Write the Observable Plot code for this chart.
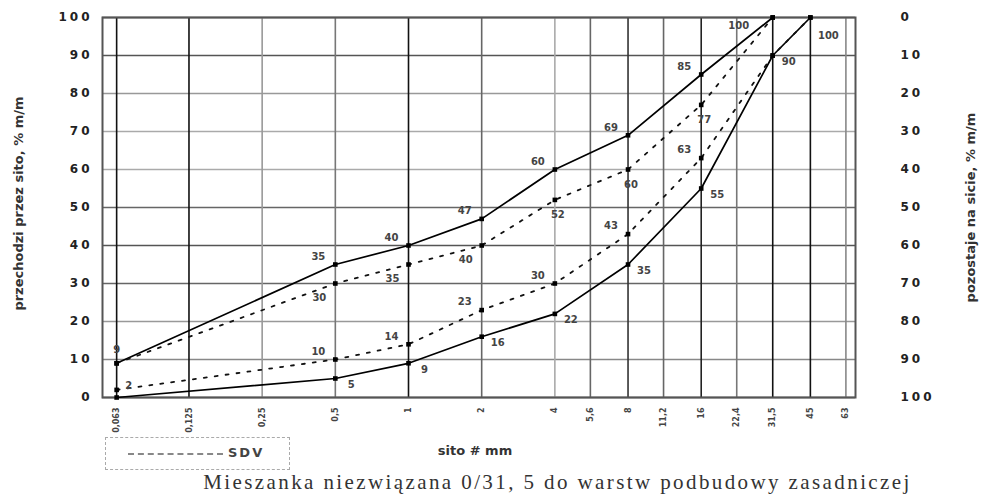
<!DOCTYPE html>
<html><head><meta charset="utf-8">
<script src="https://cdn.jsdelivr.net/npm/d3@7"></script>
<script src="https://cdn.jsdelivr.net/npm/@observablehq/plot@0.6"></script>
<style>
body{margin:0;background:#fff;}
#wrap{position:relative;width:987px;height:499px;overflow:hidden;background:#fff;}
#wrap svg{position:absolute;left:0;top:0;}
g[aria-label="y-axis tick label"] text{letter-spacing:3px;}
#legend{position:absolute;left:105px;top:437px;width:185px;height:33px;border:1px dashed #aaa;box-sizing:border-box;}
#legend .ln{position:absolute;left:22px;top:15px;width:95px;border-top:2px dashed #888;}
#legend .tx{position:absolute;left:122px;top:7px;font:bold 13px "DejaVu Sans",sans-serif;letter-spacing:2px;color:#444;}
#caption{position:absolute;left:190px;width:735px;top:470px;text-align:center;font:21px "Liberation Serif",serif;color:#333;letter-spacing:2.4px;white-space:nowrap;}
</style></head><body><div id="wrap"></div>
<script>
// sieve sizes (mm) and their tick labels
const sieves = [0.063, 0.125, 0.25, 0.5, 1, 2, 4, 5.6, 8, 11.2, 16, 22.4, 31.5, 45, 63];
const sieveLabels = ["0,063", "0,125", "0,25", "0,5", "1", "2", "4", "5,6", "8", "11,2", "16", "22,4", "31,5", "45", "63"];
const yTicks = [0, 10, 20, 30, 40, 50, 60, 70, 80, 90, 100];

// grading envelope curves (% passing)
const upperSolidSieve = [0.063, 0.5, 1, 2, 4, 8, 16, 31.5];
const upperSolidValue = [9, 35, 40, 47, 60, 69, 85, 100];
const lowerSolidSieve = [0.063, 0.5, 1, 2, 4, 8, 16, 31.5, 45];
const lowerSolidValue = [0, 5, 9, 16, 22, 35, 55, 90, 100];
const upperDashedSieve = [0.063, 0.5, 1, 2, 4, 8, 16, 31.5];
const upperDashedValue = [9, 30, 35, 40, 52, 60, 77, 100];
const lowerDashedSieve = [0.063, 0.5, 1, 2, 4, 8, 16, 31.5, 45];
const lowerDashedValue = [2, 10, 14, 23, 30, 43, 63, 90, 100];

const mk = (name, xs, ys) => xs.map((x, i) => ({series: name, sieve: x, value: ys[i], i}));
const upperSolid = mk("upperSolid", upperSolidSieve, upperSolidValue);
const lowerSolid = mk("lowerSolid", lowerSolidSieve, lowerSolidValue);
const upperDashed = mk("upperDashed", upperDashedSieve, upperDashedValue);
const lowerDashed = mk("lowerDashed", lowerDashedSieve, lowerDashedValue);
const solid = [...upperSolid, ...lowerSolid];
const dashed = [...upperDashed, ...lowerDashed];

const gridColor = d => ({0.063:"#111",0.125:"#111",0.25:"#999",0.5:"#777",1:"#111",2:"#666",4:"#aaa",5.6:"#666",8:"#333",11.2:"#666",16:"#222",22.4:"#777",31.5:"#111",45:"#111",63:"#888"})[d] || "#666";
const hColor = d => ({0:"#444",10:"#888",20:"#999",30:"#666",40:"#555",50:"#666",60:"#aaa",70:"#aaa",80:"#999",90:"#555",100:"#444"})[d] || "#666";

const lblFont = {fontWeight: "bold", fontSize: 10, fill: "#444", fontFamily: "DejaVu Sans, sans-serif"};

const chart = Plot.plot({
  width: 987,
  height: 499,
  marginLeft: 102,
  marginRight: 132,
  marginTop: 17,
  marginBottom: 102,
  style: {fontFamily: "DejaVu Sans, sans-serif", background: "#fff"},
  x: {type: "log", domain: [0.0551, 69], axis: null},
  y: {domain: [0, 100]},
  marks: [
    Plot.ruleY(yTicks, {y: d => d, stroke: hColor, strokeWidth: 1.6}),
    Plot.ruleX(sieves, {x: d => d, stroke: gridColor, strokeWidth: 1.6}),
    Plot.frame({stroke: "#555", strokeWidth: 2}),
    // x tick labels (rotated)
    Plot.text(sieves, {x: d => d, frameAnchor: "bottom", dy: 10, rotate: -90, textAnchor: "end", lineAnchor: "middle",
      text: (d, i) => sieveLabels[i], fontSize: 8, fontWeight: "bold", fill: "#444"}),
    Plot.axisY(yTicks, {anchor: "left", tickSize: 0, tickPadding: 10, fontSize: 12, fontWeight: "bold", fill: "#222", label: null}),
    Plot.axisY(yTicks, {anchor: "right", tickSize: 0, tickPadding: 45, fontSize: 12, fontWeight: "bold", fill: "#222", textAnchor: "start",
      tickFormat: d => String(100 - d), label: null}),
    Plot.line(upperSolid, {x: "sieve", y: "value", stroke: "#000", strokeWidth: 1.7}),
    Plot.line(lowerSolid, {x: "sieve", y: "value", stroke: "#000", strokeWidth: 1.7}),
    Plot.line(upperDashed, {x: "sieve", y: "value", stroke: "#111", strokeWidth: 1.8, strokeDasharray: "3,8"}),
    Plot.line(lowerDashed, {x: "sieve", y: "value", stroke: "#111", strokeWidth: 1.8, strokeDasharray: "3,8"}),
    Plot.dot([...solid, ...dashed], {x: "sieve", y: "value", symbol: "square", r: 2.6, fill: "#000"}),
    // value labels
    Plot.text(upperSolid.filter(d => d.i === 0), {x: "sieve", y: "value", text: d => String(d.value), dy: -14, ...lblFont}),
    Plot.text(upperSolid.filter(d => d.i > 0 && d.i < 7), {x: "sieve", y: "value", text: d => String(d.value), dx: -17, dy: -8, ...lblFont}),
    Plot.text(upperSolid.filter(d => d.i === 7), {x: "sieve", y: "value", text: d => String(d.value), dx: -34, dy: 8, ...lblFont}),
    Plot.text(upperDashed.filter(d => d.i > 0 && d.i < 4), {x: "sieve", y: "value", text: d => String(d.value), dx: -16, dy: 14, ...lblFont}),
    Plot.text(upperDashed.filter(d => d.i >= 4 && d.i < 7), {x: "sieve", y: "value", text: d => String(d.value), dx: 3, dy: 15, ...lblFont}),
    Plot.text(lowerDashed.filter(d => d.i === 0), {x: "sieve", y: "value", text: d => String(d.value), dx: 12, dy: -4, ...lblFont}),
    Plot.text(lowerDashed.filter(d => d.i > 0 && d.i < 7), {x: "sieve", y: "value", text: d => String(d.value), dx: -17, dy: -8, ...lblFont}),
    Plot.text(lowerSolid.filter(d => d.i > 0 && d.i < 8), {x: "sieve", y: "value", text: d => String(d.value), dx: 16, dy: 6, ...lblFont}),
    Plot.text(lowerSolid.filter(d => d.i === 8), {x: "sieve", y: "value", text: d => String(d.value), dx: 18, dy: 18, ...lblFont}),
    // axis titles
    Plot.text(["przechodzi przez sito, % m/m"], {frameAnchor: "left", dx: -84, dy: -4, rotate: -90, textAnchor: "middle", text: d => d, fontSize: 13, fontWeight: "bold", fill: "#333"}),
    Plot.text(["pozostaje na sicie, % m/m"], {frameAnchor: "right", dx: 115, rotate: -90, textAnchor: "middle", text: d => d, fontSize: 13, fontWeight: "bold", fill: "#333"}),
    Plot.text(["sito # mm"], {frameAnchor: "bottom", dy: 57, dx: -4, text: d => d, fontSize: 13, fontWeight: "bold", fill: "#333"})
  ]
});
const wrap = document.getElementById("wrap");
wrap.appendChild(chart);
const lg = document.createElement("div");
lg.id = "legend";
lg.innerHTML = '<div class="ln"></div><div class="tx">SDV</div>';
wrap.appendChild(lg);
const cap = document.createElement("div");
cap.id = "caption";
cap.textContent = "Mieszanka niezwiązana 0/31, 5 do warstw podbudowy zasadniczej";
wrap.appendChild(cap);
</script>
</body></html>
